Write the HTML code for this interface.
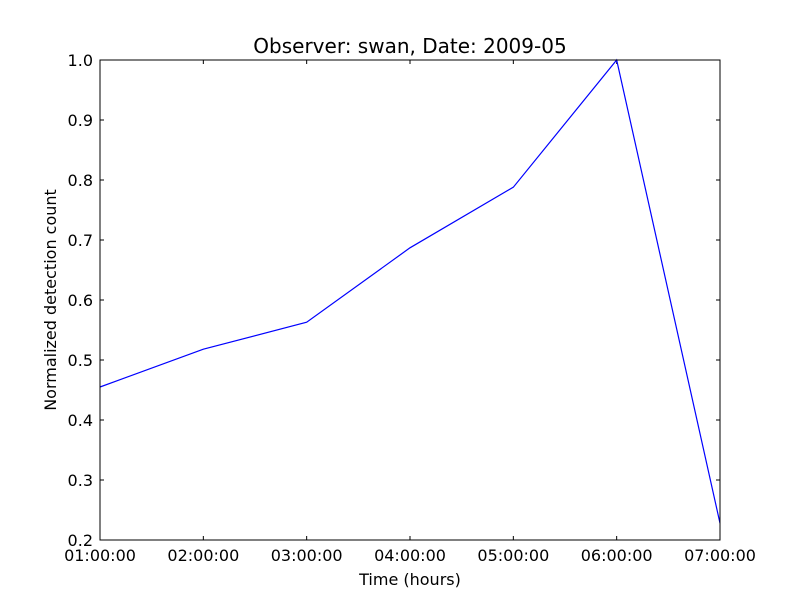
<!DOCTYPE html>
<html><head><meta charset="utf-8"><style>
body{margin:0;background:#fff}
svg text{font-family:"DejaVu Sans","Liberation Sans",sans-serif;fill:#000}
</style></head><body>
<svg id="chart" width="800" height="600" xmlns="http://www.w3.org/2000/svg">
<rect width="800" height="600" fill="#fff"/>
<g id="ticks"></g>
<polyline id="series" fill="none" stroke="#0000ff" stroke-width="1.2"/>
<rect x="100" y="60" width="620" height="480" fill="none" stroke="#000" stroke-width="1"/>
<text x="410" y="53" font-size="20" text-anchor="middle">Observer: swan, Date: 2009-05</text>
<text x="410" y="585" font-size="16" text-anchor="middle">Time (hours)</text>
<text x="56" y="300" font-size="16" text-anchor="middle" transform="rotate(-90 56 300)">Normalized detection count</text>
</svg>
<script>
const categories=["01:00:00","02:00:00","03:00:00","04:00:00","05:00:00","06:00:00","07:00:00"];
const values=[0.455,0.518,0.563,0.687,0.788,1.0,0.228];
const yTicks=[0.2,0.3,0.4,0.5,0.6,0.7,0.8,0.9,1.0];
const yTickLabels=["0.2","0.3","0.4","0.5","0.6","0.7","0.8","0.9","1.0"];
const X0=100,X1=720,Y0=540,Y1=60,ymin=0.2,ymax=1.0;
const xs=i=>X0+(X1-X0)*i/(categories.length-1);
const ys=v=>Y0-(v-ymin)/(ymax-ymin)*(Y0-Y1);
const NS="http://www.w3.org/2000/svg";
const g=document.getElementById('ticks');
function line(x1,y1,x2,y2){const l=document.createElementNS(NS,'line');l.setAttribute('x1',x1);l.setAttribute('y1',y1);l.setAttribute('x2',x2);l.setAttribute('y2',y2);l.setAttribute('stroke','#000');


g.appendChild(l);}
function text(x,y,s,anchor){const t=document.createElementNS(NS,'text');t.setAttribute('x',x);t.setAttribute('y',y);t.setAttribute('font-size','16');t.setAttribute('text-anchor',anchor);t.textContent=s;


g.appendChild(t);}
categories.forEach((c,i)=>{const x=xs(i);line(x,Y0,x,Y0-4);line(x,Y1,x,Y1+4);text(x,Y0+21,c,'middle');});
yTicks.forEach((v,i)=>{const y=ys(v);line(X0,y,X0+4,y);line(X1,y,X1-4,y);text(X0-7,y+6,yTickLabels[i],'end');});
document.getElementById('series').setAttribute('points',values.map((v,i)=>xs(i)+','+ys(v)).join(' '));
</script>
</body></html>
